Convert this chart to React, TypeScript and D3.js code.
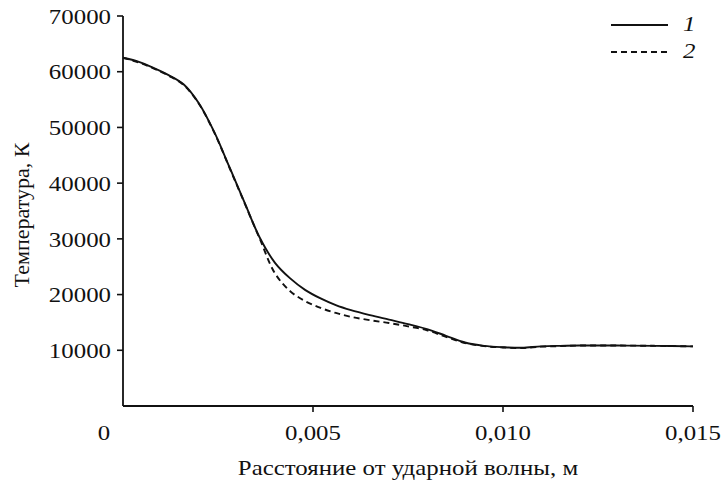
import React from "react";
import * as d3 from "d3";

const xValues = [0, 0.0004, 0.0008, 0.0012, 0.0016, 0.002, 0.0024, 0.0028, 0.0032, 0.0036, 0.004, 0.0044, 0.0048, 0.0052, 0.0056, 0.006, 0.0065, 0.007, 0.0075, 0.008, 0.0085, 0.009, 0.0095, 0.01, 0.0105, 0.011, 0.0115, 0.012, 0.013, 0.014, 0.015];
const series1 = [62500, 61800, 60700, 59400, 57700, 54300, 49200, 42900, 36500, 30200, 25700, 22900, 20800, 19300, 18100, 17200, 16300, 15500, 14700, 13800, 12600, 11400, 10800, 10550, 10450, 10700, 10800, 10850, 10850, 10800, 10700];
const series2 = [62500, 61700, 60600, 59300, 57600, 54200, 49100, 42800, 36400, 30000, 23800, 20600, 18800, 17600, 16700, 16000, 15400, 14900, 14300, 13600, 12400, 11300, 10750, 10500, 10400, 10650, 10750, 10850, 10850, 10800, 10700];
const xTicks = [0.005, 0.01, 0.015];
const xTickLabels = ["0,005", "0,010", "0,015"];
const yTicks = [10000, 20000, 30000, 40000, 50000, 60000, 70000];
const legendLabels = ["1", "2"];

const W = 721, H = 482;
const left = 123, right = 693, top = 16, bottom = 406;
const FONT = "'Liberation Serif', 'Times New Roman', serif";
const SX = 1.13;

function T(props: { x: number; y: number; anchor?: string; italic?: boolean; children: React.ReactNode; dy?: string }) {
  return (
    <text
      transform={`translate(${props.x},${props.y}) scale(${SX},1)`}
      textAnchor={props.anchor || "start"}
      dy={props.dy}
      fontSize={22}
      fontStyle={props.italic ? "italic" : undefined}
      fill="#111"
    >
      {props.children}
    </text>
  );
}

export default function App() {
  const x = d3.scaleLinear().domain([0, 0.015]).range([left, right]);
  const y = d3.scaleLinear().domain([0, 70000]).range([bottom, top]);
  const line = d3
    .line<number>()
    .x((_, i) => x(xValues[i]))
    .y((d) => y(d))
    .curve(d3.curveCatmullRom.alpha(0.5));
  return (
    <svg width={W} height={H} style={{ position: "absolute", left: 0, top: 0, background: "#fff" }} fontFamily={FONT}>
      <rect width={W} height={H} fill="#fff" />
      <path d={line(series2) || ""} fill="none" stroke="#111" strokeWidth={1.9} strokeDasharray="6,4" />
      <path d={line(series1) || ""} fill="none" stroke="#111" strokeWidth={1.9} />
      <line x1={left} x2={left} y1={top} y2={bottom} stroke="#111" strokeWidth={1.8} />
      <line x1={left} x2={right} y1={bottom} y2={bottom} stroke="#111" strokeWidth={1.8} />
      {yTicks.map((t) => (
        <g key={t}>
          <line x1={left - 6} x2={left} y1={y(t)} y2={y(t)} stroke="#111" strokeWidth={1.6} />
          <T x={left - 12} y={y(t)} anchor="end" dy="0.35em">{t}</T>
        </g>
      ))}
      {xTicks.map((t, i) => (
        <g key={t}>
          <line x1={x(t)} x2={x(t)} y1={bottom} y2={bottom + 6} stroke="#111" strokeWidth={1.6} />
          <T x={x(t)} y={440} anchor="middle">{xTickLabels[i]}</T>
        </g>
      ))}
      <T x={104} y={440} anchor="middle">0</T>
      <T x={408} y={475} anchor="middle">Расстояние от ударной волны, м</T>
      <text transform={`translate(29,215) rotate(-90)`} textAnchor="middle" fontSize={22} fill="#111">Температура, К</text>
      {legendLabels.map((l, i) => (
        <g key={l}>
          <line x1={611} x2={668} y1={25 + i * 27} y2={25 + i * 27} stroke="#111" strokeWidth={1.8} strokeDasharray={i === 1 ? "6,4" : undefined} />
          <T x={683} y={31 + i * 27} italic>{l}</T>
        </g>
      ))}
    </svg>
  );
}
